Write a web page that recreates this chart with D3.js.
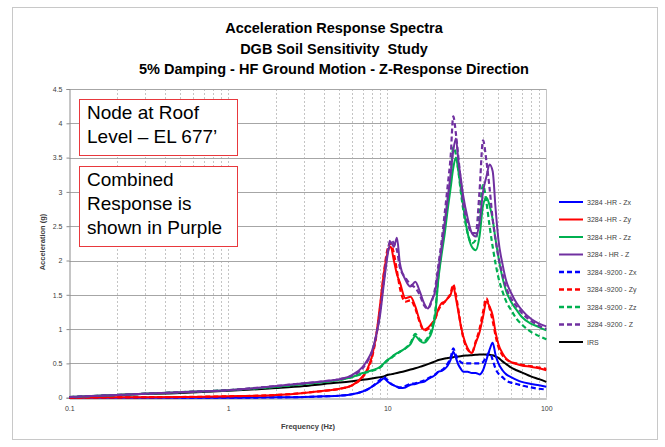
<!DOCTYPE html>
<html>
<head>
<meta charset="utf-8">
<script src="https://cdn.jsdelivr.net/npm/d3@7/dist/d3.min.js"></script>
<style>
  html, body { margin: 0; padding: 0; background: #fff; }
  svg { display: block; }
  .title { white-space: pre; }
</style>
</head>
<body>
<svg id="chart" width="665" height="447"></svg>
<script>
// Frequency grid (Hz) shared by every spectrum
const freqs = [0.1, 0.2, 0.5, 1, 2, 3, 4, 5, 6, 7, 7.5, 8, 8.5, 9, 9.5, 10, 10.5, 11, 11.5, 12, 13, 14, 15, 16, 17, 18, 19, 20, 21, 22, 23, 24, 25, 26, 27, 28, 29, 30, 32, 34, 36, 38, 40, 42, 44, 46, 48, 50, 53, 56, 60, 65, 70, 80, 90, 100];

// Spectral acceleration (g) on the grid above
const hrZx = [0, 0, 0, 0, 0.005, 0.01, 0.02, 0.03, 0.05, 0.09, 0.12, 0.16, 0.2, 0.24, 0.28, 0.24, 0.2, 0.18, 0.16, 0.14, 0.15, 0.19, 0.2, 0.22, 0.23, 0.27, 0.3, 0.33, 0.38, 0.39, 0.42, 0.47, 0.55, 0.67, 0.58, 0.48, 0.42, 0.38, 0.38, 0.36, 0.36, 0.34, 0.4, 0.55, 0.7, 0.8, 0.62, 0.5, 0.4, 0.34, 0.3, 0.26, 0.23, 0.2, 0.18, 0.16];
const hrZy = [0, 0.005, 0.01, 0.02, 0.04, 0.07, 0.1, 0.13, 0.18, 0.31, 0.42, 0.6, 0.9, 1.35, 1.8, 2.1, 2.2, 2.0, 1.8, 1.68, 1.45, 1.47, 1.33, 1.12, 0.99, 1.02, 1.08, 1.15, 1.3, 1.38, 1.4, 1.45, 1.5, 1.62, 1.45, 1.25, 1.05, 0.9, 0.72, 0.65, 0.8, 0.95, 1.18, 1.4, 1.33, 1.2, 0.95, 0.78, 0.65, 0.57, 0.52, 0.49, 0.47, 0.45, 0.43, 0.4];
const hrZz = [0.01, 0.04, 0.08, 0.11, 0.16, 0.2, 0.23, 0.26, 0.3, 0.36, 0.38, 0.4, 0.42, 0.45, 0.5, 0.55, 0.58, 0.62, 0.65, 0.67, 0.72, 0.78, 0.9, 0.83, 0.8, 0.85, 0.95, 1.2, 1.75, 2.1, 2.4, 2.75, 3.05, 3.35, 3.5, 3.3, 3.05, 2.8, 2.4, 2.2, 2.15, 2.35, 2.8, 2.92, 2.8, 2.6, 2.3, 2.05, 1.75, 1.55, 1.4, 1.28, 1.18, 1.08, 1.03, 0.98];
const hrZ  = [0.01, 0.04, 0.08, 0.11, 0.17, 0.21, 0.24, 0.27, 0.33, 0.45, 0.55, 0.68, 0.9, 1.2, 1.65, 2.05, 2.27, 2.2, 2.33, 1.96, 1.72, 1.62, 1.69, 1.55, 1.38, 1.3, 1.42, 1.55, 1.88, 2.2, 2.55, 2.9, 3.25, 3.6, 3.78, 3.45, 3.2, 2.95, 2.62, 2.4, 2.35, 2.55, 3.0, 3.22, 3.4, 3.3, 2.75, 2.3, 1.95, 1.7, 1.53, 1.38, 1.28, 1.15, 1.08, 1.04];
const s9200Zx = [0, 0, 0, 0, 0.005, 0.01, 0.02, 0.03, 0.05, 0.09, 0.12, 0.16, 0.21, 0.26, 0.3, 0.26, 0.21, 0.18, 0.16, 0.15, 0.17, 0.2, 0.21, 0.23, 0.25, 0.28, 0.31, 0.34, 0.38, 0.4, 0.44, 0.5, 0.58, 0.72, 0.62, 0.55, 0.52, 0.5, 0.5, 0.5, 0.5, 0.5, 0.52, 0.6, 0.66, 0.55, 0.42, 0.35, 0.3, 0.25, 0.22, 0.2, 0.18, 0.15, 0.13, 0.12];
const s9200Zy = [0, 0.005, 0.01, 0.02, 0.04, 0.07, 0.1, 0.13, 0.18, 0.3, 0.4, 0.58, 0.88, 1.3, 1.8, 2.15, 2.25, 2.1, 1.85, 1.6, 1.4, 1.42, 1.3, 1.1, 0.98, 1.0, 1.06, 1.15, 1.28, 1.35, 1.4, 1.45, 1.52, 1.65, 1.5, 1.28, 1.05, 0.88, 0.7, 0.66, 0.82, 1.0, 1.25, 1.45, 1.3, 1.12, 0.9, 0.74, 0.62, 0.56, 0.52, 0.5, 0.48, 0.46, 0.44, 0.42];
const s9200Zz = [0.01, 0.04, 0.08, 0.11, 0.16, 0.2, 0.23, 0.26, 0.3, 0.35, 0.37, 0.39, 0.41, 0.44, 0.49, 0.54, 0.57, 0.61, 0.64, 0.67, 0.72, 0.8, 0.93, 0.85, 0.82, 0.88, 1.0, 1.25, 1.8, 2.2, 2.55, 2.9, 3.2, 3.65, 3.55, 3.3, 3.0, 2.75, 2.4, 2.25, 2.3, 2.7, 3.1, 2.85, 2.5, 2.2, 1.95, 1.75, 1.55, 1.4, 1.28, 1.15, 1.07, 0.96, 0.9, 0.85];
const s9200Z  = [0.01, 0.04, 0.08, 0.11, 0.17, 0.21, 0.24, 0.27, 0.32, 0.43, 0.53, 0.66, 0.9, 1.25, 1.7, 2.1, 2.3, 2.25, 2.15, 1.9, 1.75, 1.65, 1.6, 1.5, 1.35, 1.3, 1.4, 1.6, 1.95, 2.3, 2.7, 3.1, 3.5, 4.1, 3.85, 3.5, 3.15, 2.85, 2.55, 2.4, 2.4, 3.0, 3.75, 3.45, 3.05, 2.6, 2.3, 2.05, 1.8, 1.6, 1.45, 1.33, 1.24, 1.12, 1.05, 1.0];
const irs = [0, 0.04, 0.07, 0.1, 0.14, 0.17, 0.2, 0.22, 0.24, 0.26, 0.27, 0.28, 0.29, 0.3, 0.31, 0.33, 0.34, 0.35, 0.36, 0.37, 0.39, 0.41, 0.43, 0.45, 0.47, 0.49, 0.51, 0.53, 0.55, 0.56, 0.57, 0.58, 0.585, 0.59, 0.6, 0.6, 0.605, 0.61, 0.615, 0.62, 0.625, 0.63, 0.63, 0.63, 0.625, 0.62, 0.6, 0.58, 0.53, 0.49, 0.44, 0.4, 0.37, 0.31, 0.27, 0.23];

const seriesNames = ["3284 -HR - Zx", "3284 -HR - Zy", "3284 -HR - Zz", "3284 - HR - Z", "3284 -9200 - Zx", "3284 -9200 - Zy", "3284 -9200 - Zz", "3284 -9200 - Z", "IRS"];
const seriesValues = [hrZx, hrZy, hrZz, hrZ, s9200Zx, s9200Zy, s9200Zz, s9200Z, irs];
const seriesColors = ["#0000ff", "#ff0000", "#00b050", "#7030a0", "#0000ff", "#ff0000", "#00b050", "#7030a0", "#000000"];
const seriesDashed = [false, false, false, false, true, true, true, true, false];

const titleLines = ["Acceleration Response Spectra", "DGB Soil Sensitivity  Study", "5% Damping - HF Ground Motion - Z-Response Direction"];
const yTicks = [0, 0.5, 1, 1.5, 2, 2.5, 3, 3.5, 4, 4.5];
const xTicks = [0.1, 1, 10, 100];
const note1 = ["Node at Roof", "Level \u2013 EL 677\u2019"];
const note2 = ["Combined", "Response is", "shown in Purple"];

const svg = d3.select("#chart");

// Outer chart frame
svg.append("rect").attr("x", 12.5).attr("y", 7.5).attr("width", 645).attr("height", 432)
  .attr("fill", "#fff").attr("stroke", "#c8c8c8").attr("stroke-width", 1);

const x = d3.scaleLog().domain([0.1, 100]).range([69.3, 546.3]);
const y = d3.scaleLinear().domain([0, 4.5]).range([397.7, 89]);

// Title
svg.append("g").selectAll("text").data(titleLines).join("text")
  .attr("class", "title")
  .attr("x", 334).attr("y", (d, i) => 33 + i * 20.5)
  .attr("text-anchor", "middle")
  .attr("font-family", "Liberation Sans, Arial, sans-serif")
  .attr("font-weight", "bold").attr("font-size", 14.5).attr("fill", "#000")
  .text(d => d);

// Vertical log gridlines (minor ticks of each decade)
const minor = [];
for (let dec = 0.1; dec < 100; dec *= 10) {
  for (let k = 1; k <= 9; k++) minor.push(+(dec * k).toPrecision(3));
}
svg.append("g").selectAll("line").data(minor.filter(v => v > 0.1 && v < 100)).join("line")
  .attr("x1", d => Math.round(x(d)) + 0.5).attr("x2", d => Math.round(x(d)) + 0.5)
  .attr("y1", y(4.5)).attr("y2", y(0))
  .attr("stroke", "#c4c4c4").attr("stroke-width", 1).attr("stroke-dasharray", "2,2");

// Horizontal gridlines
svg.append("g").selectAll("line").data(yTicks.filter(v => v > 0)).join("line")
  .attr("x1", x(0.1)).attr("x2", x(100))
  .attr("y1", d => Math.round(y(d)) + 0.5).attr("y2", d => Math.round(y(d)) + 0.5)
  .attr("stroke", "#a6a6a6").attr("stroke-width", 1.2);

// Right border of plot area
svg.append("line").attr("x1", Math.round(x(100)) + 0.5).attr("x2", Math.round(x(100)) + 0.5)
  .attr("y1", y(4.5)).attr("y2", y(0)).attr("stroke", "#c4c4c4").attr("stroke-width", 1);

// Y axis
const yAxis = d3.axisLeft(y).tickValues(yTicks).tickSize(3).tickPadding(4).tickFormat(d3.format("~g"));
const yG = svg.append("g").attr("transform", `translate(${Math.round(x(0.1)) + 0.5},0)`).call(yAxis);
yG.select(".domain").attr("stroke", "#8c8c8c");
yG.selectAll(".tick line").attr("stroke", "#8c8c8c");
yG.selectAll("text").attr("font-family", "Liberation Sans, Arial, sans-serif").attr("font-size", 7).attr("fill", "#404040");

// X axis
const xAxis = d3.axisBottom(x).tickValues(xTicks).tickSize(0).tickPadding(8).tickFormat(d3.format("~g"));
const xG = svg.append("g").attr("transform", `translate(0,${Math.round(y(0)) + 0.5})`).call(xAxis);
xG.select(".domain").attr("stroke", "#8c8c8c");
xG.selectAll("text").attr("font-family", "Liberation Sans, Arial, sans-serif").attr("font-size", 7).attr("fill", "#404040");

// Axis titles
svg.append("text").attr("x", 308).attr("y", 428.5).attr("text-anchor", "middle")
  .attr("font-family", "Liberation Sans, Arial, sans-serif").attr("font-weight", "bold")
  .attr("font-size", 7.5).attr("fill", "#404040").text("Frequency (Hz)");
svg.append("text").attr("transform", "translate(44.5,242) rotate(-90)").attr("text-anchor", "middle")
  .attr("font-family", "Liberation Sans, Arial, sans-serif").attr("font-weight", "bold")
  .attr("font-size", 7.5).attr("fill", "#404040").text("Acceleration (g)");

// Spectra curves
const line = d3.line()
  .x((d, i) => x(freqs[i]))
  .y(d => y(d))
  .curve(d3.curveMonotoneX);

const drawOrder = [8, 0, 4, 1, 5, 2, 6, 3, 7];
svg.append("g").selectAll("path").data(drawOrder).join("path")
  .attr("d", k => line(seriesValues[k]))
  .attr("fill", "none")
  .attr("stroke", k => seriesColors[k])
  .attr("stroke-width", k => seriesDashed[k] ? 2.2 : 2)
  .attr("stroke-dasharray", k => seriesDashed[k] ? "5,3" : null)
  .attr("stroke-linejoin", "round");

// Legend
const leg = svg.append("g").selectAll("g").data(seriesNames).join("g")
  .attr("transform", (d, i) => `translate(559,${202 + i * 17.5})`);
leg.append("line").attr("x1", 0).attr("x2", 24).attr("y1", 0).attr("y2", 0)
  .attr("stroke", (d, i) => seriesColors[i])
  .attr("stroke-width", (d, i) => seriesDashed[i] ? 2.4 : 2)
  .attr("stroke-dasharray", (d, i) => seriesDashed[i] ? "5,3" : null);
leg.append("text").attr("x", 28).attr("y", 2.5)
  .attr("font-family", "Liberation Sans, Arial, sans-serif").attr("font-size", 7)
  .attr("fill", "#404040").text(d => d);

// Annotation boxes
function noteBox(lines, top, height) {
  svg.append("rect").attr("x", 79.5).attr("y", top + 0.5).attr("width", 158).attr("height", height)
    .attr("fill", "#fff").attr("stroke", "#e8383d").attr("stroke-width", 1);
  svg.append("g").selectAll("text").data(lines).join("text")
    .attr("x", 87).attr("y", (d, i) => top + 20 + i * 24)
    .attr("font-family", "Liberation Sans, Arial, sans-serif").attr("font-size", 19)
    .attr("fill", "#000").text(d => d);
}
noteBox(note1, 99, 56);
noteBox(note2, 166, 80);
</script>
</body>
</html>
